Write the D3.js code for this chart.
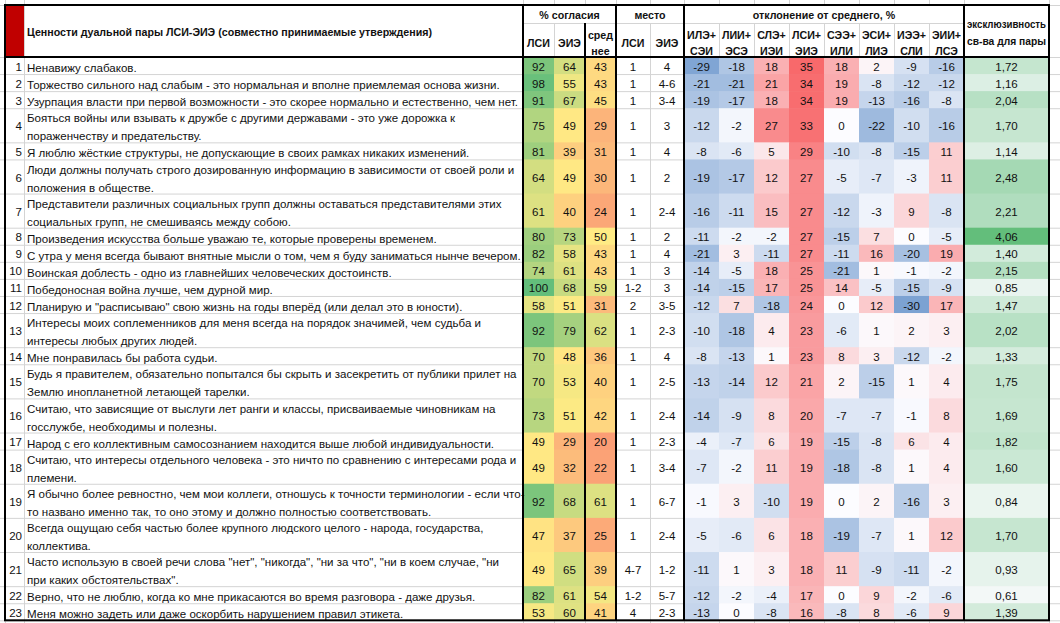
<!DOCTYPE html>
<html>
<head>
<meta charset="utf-8">
<script src="https://cdn.jsdelivr.net/npm/d3@7"></script>
<style>
  body { margin: 0; background: #fff; }
  svg { display: block; }
  text { font-family: "Liberation Sans", Arial, sans-serif; font-size: 11.5px; fill: #111; }
  .bold text { font-weight: bold; }
</style>
</head>
<body>
<div id="chart"></div>
<script>
// Statements (line breaks as in the reference)
const statements = [
  "Ненавижу слабаков.",
  "Торжество сильного над слабым - это нормальная и вполне приемлемая основа жизни.",
  "Узурпация власти при первой возможности - это скорее нормально и естественно, чем нет.",
  "Бояться войны или взывать к дружбе с другими державами - это уже дорожка к\nпораженчеству и предательству.",
  "Я люблю жёсткие структуры, не допускающие в своих рамках никаких изменений.",
  "Люди должны получать строго дозированную информацию в зависимости от своей роли и\nположения в обществе.",
  "Представители различных социальных групп должны оставаться представителями этих\nсоциальных групп, не смешиваясь между собою.",
  "Произведения искусства больше уважаю те, которые проверены временем.",
  "С утра у меня всегда бывают внятные мысли о том, чем я буду заниматься нынче вечером.",
  "Воинская доблесть - одно из главнейших человеческих достоинств.",
  "Победоносная война лучше, чем дурной мир.",
  "Планирую и \"расписываю\" свою жизнь на годы вперёд (или делал это в юности).",
  "Интересы моих соплеменников для меня всегда на порядок значимей, чем судьба и\nинтересы любых других людей.",
  "Мне понравилась бы работа судьи.",
  "Будь я правителем, обязательно попытался бы скрыть и засекретить от публики прилет на\nЗемлю инопланетной летающей тарелки.",
  "Считаю, что зависящие от выслуги лет ранги и классы, присваиваемые чиновникам на\nгосслужбе, необходимы и полезны.",
  "Народ с его коллективным самосознанием находится выше любой индивидуальности.",
  "Считаю, что интересы отдельного человека - это ничто по сравнению с интересами рода и\nплемени.",
  "Я обычно более ревностно, чем мои коллеги, отношусь к точности терминологии - если что-\nто названо именно так, то оно этому и должно полностью соответствовать.",
  "Всегда ощущаю себя частью более крупного людского целого - народа, государства,\nколлектива.",
  "Часто использую в своей речи слова \"нет\", \"никогда\", \"ни за что\", \"ни в коем случае, \"ни\nпри каких обстоятельствах\".",
  "Верно, что не люблю, когда ко мне прикасаются во время разговора - даже друзья.",
  "Меня можно задеть или даже оскорбить нарушением правил этикета."
];

// % agreement
const agreeLsi = [92, 98, 91, 75, 81, 64, 61, 80, 82, 74, 100, 58, 92, 70, 70, 73, 49, 49, 92, 47, 49, 82, 53];
const agreeEie = [64, 55, 67, 49, 39, 49, 40, 73, 58, 61, 68, 51, 79, 48, 53, 51, 29, 32, 68, 37, 65, 61, 60];
const agreeAvg = [43, 43, 45, 29, 31, 30, 24, 50, 43, 43, 59, 31, 62, 36, 40, 42, 20, 22, 61, 25, 39, 54, 41];

// place (rank)
const placeLsi = ["1", "1", "1", "1", "1", "1", "1", "1", "1", "1", "1-2", "2", "1", "1", "1", "1", "1", "1", "1", "1", "4-7", "1-2", "4"];
const placeEie = ["4", "4-6", "3-4", "3", "4", "2", "2-4", "2", "4", "3", "3", "3-5", "2-3", "4", "2-5", "2-4", "2-3", "3-4", "6-7", "2-4", "1-2", "5-7", "2-3"];

// deviation from the average, % (one array per statement, in pair order)
const pairLabels = ["ИЛЭ+\nСЭИ", "ЛИИ+\nЭСЭ", "СЛЭ+\nИЭИ", "ЛСИ+\nЭИЭ", "СЭЭ+\nИЛИ", "ЭСИ+\nЛИЭ", "ИЭЭ+\nСЛИ", "ЭИИ+\nЛСЭ"];
const deviations = [
  [-29, -18, 18, 35, 18, 2, -9, -16],
  [-21, -21, 21, 34, 19, -8, -12, -12],
  [-19, -17, 18, 34, 19, -13, -16, -8],
  [-12, -2, 27, 33, 0, -22, -10, -16],
  [-8, -6, 5, 29, -10, -8, -15, 11],
  [-19, -17, 12, 27, -5, -7, -3, 11],
  [-16, -11, 15, 27, -12, -3, 9, -8],
  [-11, -2, -2, 27, -15, 7, 0, -5],
  [-21, 3, -11, 27, -11, 16, -20, 19],
  [-14, -5, 18, 25, -21, 1, -1, -2],
  [-14, -15, 17, 25, 14, -5, -15, -9],
  [-12, 7, -18, 24, 0, 12, -30, 17],
  [-10, -18, 4, 23, -6, 1, 2, 3],
  [-8, -13, 1, 23, 8, 3, -12, -2],
  [-13, -14, 12, 21, 2, -15, 1, 4],
  [-14, -9, 8, 20, -7, -7, -1, 8],
  [-4, -7, 6, 19, -15, -8, 6, 4],
  [-7, -2, 11, 19, -18, -8, 1, 4],
  [-1, 3, -10, 19, 0, 2, -16, 3],
  [-5, -6, 6, 18, -19, -7, 1, 12],
  [-11, 1, 3, 18, 11, -9, -11, -2],
  [-12, -2, -4, 17, 0, 9, -2, -6],
  [-13, 0, -8, 16, -8, 8, -6, 9]
];

// exclusivity of the statement for the pair
const exclusivity = [1.72, 1.16, 2.04, 1.70, 1.14, 2.48, 2.21, 4.06, 1.40, 2.15, 0.85, 1.47, 2.02, 1.33, 1.75, 1.69, 1.82, 1.60, 0.84, 1.70, 0.93, 0.61, 1.39];

const width = 1060, height = 623;
const tLeft = 5, tRight = 1049, tTop = 5, headMid = 23, headBottom = 57;
const numRight = 24, textRight = 523;
const lineH = 17.07;
const gridColor = "#d4d4d4";

const svg = d3.select("#chart").append("svg")
  .attr("width", width)
  .attr("height", height);

// row geometry from the number of text lines
const lines = statements.map(s => s.split("\n"));
const rowTops = [headBottom];
lines.forEach((l, i) => rowTops.push(rowTops[i] + l.length * lineH));
const tBottom = rowTops[rowTops.length - 1];
const rows = statements.map((s, i) => ({ i, lines: lines[i], y0: rowTops[i], y1: rowTops[i + 1] }));

// column scales
const xAgree = d3.scaleBand().domain(["lsi", "eie", "avg"]).range([textRight, 616]);
const xPlace = d3.scaleBand().domain(["lsi", "eie"]).range([616, 684]);
const xDev = d3.scaleBand().domain(d3.range(8)).range([684, 964]);
const exclX0 = 964;

// colour scales (Excel-like conditional formatting)
const agreeColor = d3.scaleLinear().domain([0, 50, 100]).range(["#F8696B", "#FFEB84", "#63BE7B"]);
const devColor = d3.scaleLinear().domain([-38, 0, 35]).range(["#5A8AC6", "#FCFCFF", "#F8696B"]);
const exclColor = d3.scaleLinear().domain([0.4, 4.06]).range(["#FCFCFF", "#63BE7B"]);

// sheet gridlines in the background
const colEdges = [tLeft, numRight, textRight, ...xAgree.domain().map(d => xAgree(d) + xAgree.bandwidth()),
  ...xPlace.domain().map(d => xPlace(d) + xPlace.bandwidth()),
  ...xDev.domain().map(d => xDev(d) + xDev.bandwidth()), tRight];
const grid = svg.append("g").attr("stroke", gridColor).attr("stroke-width", 1);
grid.selectAll("line.v").data(colEdges).enter().append("line")
  .attr("x1", d => d + 0.5).attr("x2", d => d + 0.5)
  .attr("y1", 0).attr("y2", height);
grid.selectAll("line.h").data([tTop, headBottom, ...rowTops.slice(1)]).enter().append("line")
  .attr("x1", 0).attr("x2", width)
  .attr("y1", d => d + 0.5).attr("y2", d => d + 0.5);
grid.append("line").attr("x1", textRight).attr("x2", 964).attr("y1", headMid + 0.5).attr("y2", headMid + 0.5);

// header cells (merged cells hide the gridlines)
svg.append("rect").attr("x", tLeft).attr("y", tTop).attr("width", numRight - tLeft).attr("height", headBottom - tTop).attr("fill", "#C00000");
svg.append("rect").attr("x", numRight + 1).attr("y", tTop + 1).attr("width", textRight - numRight - 1).attr("height", headBottom - tTop - 1).attr("fill", "#fff");
[[textRight, 616], [616, 684], [684, 964]].forEach(([a, b]) => {
  svg.append("rect").attr("x", a + 1).attr("y", tTop + 1).attr("width", b - a - 1).attr("height", headMid - tTop - 1).attr("fill", "#fff");
});
svg.append("rect").attr("x", exclX0 + 1).attr("y", tTop + 1).attr("width", tRight - exclX0 - 1).attr("height", headBottom - tTop - 1).attr("fill", "#fff");

// coloured cells
const cells = svg.append("g");
const agreeData = [];
rows.forEach(r => {
  agreeData.push({ r, col: "lsi", v: agreeLsi[r.i] });
  agreeData.push({ r, col: "eie", v: agreeEie[r.i] });
  agreeData.push({ r, col: "avg", v: agreeAvg[r.i] });
});
cells.selectAll("rect.agree").data(agreeData).enter().append("rect")
  .attr("x", d => xAgree(d.col)).attr("y", d => d.r.y0)
  .attr("width", xAgree.bandwidth()).attr("height", d => d.r.y1 - d.r.y0 + 0.6)
  .attr("fill", d => agreeColor(d.v));

const devData = [];
rows.forEach(r => deviations[r.i].forEach((v, k) => devData.push({ r, k, v })));
cells.selectAll("rect.dev").data(devData).enter().append("rect")
  .attr("x", d => xDev(d.k)).attr("y", d => d.r.y0)
  .attr("width", xDev.bandwidth() + 0.4).attr("height", d => d.r.y1 - d.r.y0 + 0.6)
  .attr("fill", d => devColor(d.v));

cells.selectAll("rect.excl").data(rows).enter().append("rect")
  .attr("x", exclX0).attr("y", d => d.y0)
  .attr("width", tRight - exclX0).attr("height", d => d.y1 - d.y0 + 0.6)
  .attr("fill", d => exclColor(exclusivity[d.i]));

// texts
const texts = svg.append("g");
const mid = r => (r.y0 + r.y1) / 2 + 1;

// header labels
const hdr = texts.append("g").attr("class", "bold").attr("text-anchor", "middle");
const title = hdr.append("text").attr("x", 27).attr("y", 32).attr("dy", "0.35em").attr("text-anchor", "start")
  .text("Ценности дуальной пары ЛСИ-ЭИЭ (совместно принимаемые утверждения)");
hdr.append("text").attr("x", (textRight + 616) / 2).attr("y", 15).attr("dy", "0.35em").text("% согласия");
hdr.append("text").attr("x", 650).attr("y", 15).attr("dy", "0.35em").text("место");
hdr.append("text").attr("x", 824).attr("y", 15).attr("dy", "0.35em").text("отклонение от среднего, %");
const exclHead = hdr.append("g");
exclHead.append("text").attr("x", (exclX0 + tRight) / 2).attr("y", 24).attr("dy", "0.35em").text("эксклюзивность");
exclHead.append("text").attr("x", (exclX0 + tRight) / 2).attr("y", 41).attr("dy", "0.35em").text("св-ва для пары");

const subHeads = [
  { x: xAgree("lsi") + xAgree.bandwidth() / 2, label: "ЛСИ" },
  { x: xAgree("eie") + xAgree.bandwidth() / 2, label: "ЭИЭ" },
  { x: xAgree("avg") + xAgree.bandwidth() / 2, label: "сред\nнее" },
  { x: xPlace("lsi") + xPlace.bandwidth() / 2, label: "ЛСИ" },
  { x: xPlace("eie") + xPlace.bandwidth() / 2, label: "ЭИЭ" },
  ...pairLabels.map((p, k) => ({ x: xDev(k) + xDev.bandwidth() / 2, label: p }))
];
subHeads.forEach(h => {
  const parts = h.label.split("\n");
  parts.forEach((p, j) => {
    hdr.append("text").attr("x", h.x)
      .attr("y", parts.length === 1 ? 43 : 34.5 + j * 16.5)
      .attr("dy", "0.35em").text(p);
  });
});

// row numbers
const body = texts.append("g");
body.selectAll("text.num").data(rows).enter().append("text")
  .attr("x", 22).attr("y", mid).attr("dy", "0.35em")
  .attr("text-anchor", "end").text(d => d.i + 1);

// statements
rows.forEach(r => {
  r.lines.forEach((l, j) => {
    body.append("text").attr("class", "stmt")
      .attr("x", 27)
      .attr("y", r.y1 - 6 - (r.lines.length - 1 - j) * 18)
      .attr("dy", "0.35em")
      .text(l);
  });
});

// values
const val = body.append("g").attr("text-anchor", "middle");
val.selectAll("text.agree").data(agreeData).enter().append("text")
  .attr("x", d => xAgree(d.col) + xAgree.bandwidth() / 2).attr("y", d => mid(d.r)).attr("dy", "0.35em")
  .text(d => d.v);
["lsi", "eie"].forEach(col => {
  const src = col === "lsi" ? placeLsi : placeEie;
  val.selectAll("text.place-" + col).data(rows).enter().append("text")
    .attr("x", xPlace(col) + xPlace.bandwidth() / 2).attr("y", mid).attr("dy", "0.35em")
    .text(d => src[d.i]);
});
val.selectAll("text.dev").data(devData).enter().append("text")
  .attr("x", d => xDev(d.k) + xDev.bandwidth() / 2).attr("y", d => mid(d.r)).attr("dy", "0.35em")
  .text(d => d.v);
val.selectAll("text.excl").data(rows).enter().append("text")
  .attr("x", (exclX0 + tRight) / 2).attr("y", mid).attr("dy", "0.35em")
  .text(d => d3.format(".2f")(exclusivity[d.i]).replace(".", ","));

// narrow the glyphs to the spreadsheet font's proportions
// (row 3 spans ~491px, the bold title ~405px in the reference)
function narrow(sel, factor, maxW) {
  sel.each(function () {
    const w = Math.min(this.getComputedTextLength() * factor, maxW || Infinity);
    d3.select(this).attr("textLength", w).attr("lengthAdjust", "spacingAndGlyphs");
  });
}
const ref = body.selectAll("text.stmt").filter(function () { return this.textContent === lines[2][0]; }).node();
const k = 491 / ref.getComputedTextLength();
const kb = 405 / title.node().getComputedTextLength();
narrow(body.selectAll("text"), k);
narrow(hdr.selectAll(":scope > text"), kb);
narrow(exclHead.selectAll("text"), kb, 79);

// thick borders
const b = svg.append("g").attr("stroke", "#000").attr("stroke-width", 2).attr("fill", "none");
b.append("rect").attr("x", tLeft).attr("y", tTop).attr("width", tRight - tLeft).attr("height", tBottom - tTop);
b.append("line").attr("x1", tLeft).attr("x2", tRight).attr("y1", headBottom).attr("y2", headBottom);
[[textRight, tTop], [xAgree("avg"), headMid], [616, tTop], [684, tTop], [exclX0, tTop]].forEach(([x, y]) => {
  b.append("line").attr("x1", x).attr("x2", x).attr("y1", y).attr("y2", tBottom);
});
</script>
</body>
</html>
